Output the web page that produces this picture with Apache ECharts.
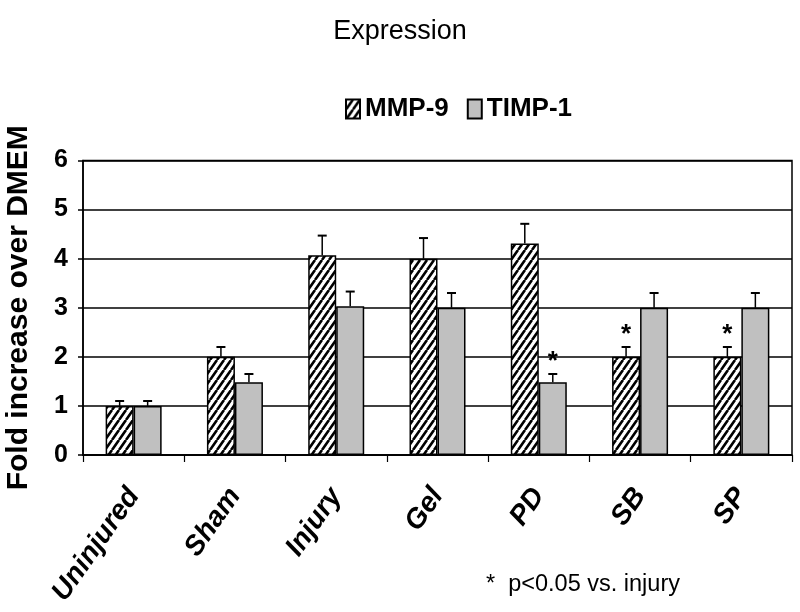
<!DOCTYPE html>
<html>
<head>
<meta charset="utf-8">
<script src="https://cdn.jsdelivr.net/npm/echarts@6/dist/echarts.min.js"></script>
<style>
  html, body { margin: 0; padding: 0; background: #fff; }
  #chart { width: 800px; height: 612px; }
</style>
</head>
<body>
<div id="chart"></div>
<script>
// ---- data ----
const categories = ['Uninjured', 'Sham', 'Injury', 'Gel', 'PD', 'SB', 'SP'];
const mmp9 = [1.0, 2.0, 4.07, 4.0, 4.31, 2.0, 2.0];
const timp1 = [1.0, 1.48, 3.03, 3.0, 1.48, 3.0, 3.0];
const mmp9Err = [0.1, 0.2, 0.4, 0.42, 0.4, 0.2, 0.2];
const timp1Err = [0.1, 0.17, 0.3, 0.3, 0.17, 0.3, 0.3];
const mmp9Sig = [0, 0, 0, 0, 0, 1, 1];
const timp1Sig = [0, 0, 0, 0, 1, 0, 0];
const yTickLabels = ['0', '1', '2', '3', '4', '5', '6'];

// ---- hatch pattern ----
function makeHatch() {
  const w = 7, h = 10;
  const c = document.createElement('canvas');
  c.width = w; c.height = h;
  const ctx = c.getContext('2d');
  ctx.fillStyle = '#fff';
  ctx.fillRect(0, 0, w, h);
  ctx.strokeStyle = '#000';
  ctx.lineWidth = 2.6;
  ctx.beginPath();
  for (let k = -1; k <= 1; k++) {
    ctx.moveTo(k * w, h);
    ctx.lineTo(k * w + w, 0);
  }
  ctx.stroke();
  return c;
}
const hatch = { image: makeHatch(), repeat: 'repeat' };

const BAR_W = 28;
const FONT = 'Liberation Sans, Arial, sans-serif';

function errSeries(name, vals, errs, sigs, side) {
  return {
    type: 'custom',
    name: name + ' err',
    z: 5,
    silent: true,
    data: vals.map((v, i) => [i, v, errs[i], sigs[i]]),
    renderItem: function (params, api) {
      const i = api.value(0), v = api.value(1), e = api.value(2), s = api.value(3);
      const p0 = api.coord([i, v]);
      const p1 = api.coord([i, v + e]);
      const x = p0[0] + side * BAR_W / 2;
      const children = [
        { type: 'line', shape: { x1: x, y1: p0[1], x2: x, y2: p1[1] }, style: { stroke: '#000', lineWidth: 1.5 } },
        { type: 'line', shape: { x1: x - 4.5, y1: p1[1], x2: x + 4.5, y2: p1[1] }, style: { stroke: '#000', lineWidth: 2 } }
      ];
      if (s) {
        children.push({
          type: 'text',
          style: {
            text: '*', x: x, y: p1[1] + 1,
            align: 'center', verticalAlign: 'bottom',
            textAlign: 'center', textVerticalAlign: 'bottom',
            fontSize: 26, fontWeight: 'bold', fontFamily: FONT, fill: '#000'
          }
        });
      }
      return { type: 'group', children: children };
    }
  };
}

const chart = echarts.init(document.getElementById('chart'), null, { renderer: 'canvas' });
chart.setOption({
  backgroundColor: '#fff',
  animation: false,
  title: {
    text: 'Expression',
    left: 'center',
    top: 13,
    textStyle: { fontFamily: FONT, fontWeight: 'normal', fontSize: 27, color: '#000' }
  },
  legend: {
    data: ['MMP-9', 'TIMP-1'],
    left: 340,
    top: 91,
    itemWidth: 14,
    itemHeight: 19,
    itemGap: 18,
    icon: 'rect',
    textStyle: { fontFamily: 'Liberation Sans Narrow, Arial Narrow, sans-serif', fontWeight: 'bold', fontSize: 26, color: '#000' }
  },
  grid: {
    left: 83, right: 8, top: 160.5, bottom: 157,
    show: true, borderColor: '#000', borderWidth: 1.5, backgroundColor: 'transparent',
    containLabel: false,
    outerBoundsMode: 'none'
  },
  xAxis: {
    type: 'category',
    data: categories,
    axisLine: { lineStyle: { color: '#000', width: 1.5 } },
    axisTick: { show: true, length: 7, lineStyle: { color: '#000', width: 1.2 } },
    axisLabel: {
      rotate: 55, margin: 36,
      fontFamily: FONT, fontWeight: 'bold', fontStyle: 'italic', fontSize: 28, color: '#000'
    }
  },
  yAxis: {
    type: 'value',
    min: 0, max: 6, interval: 1,
    name: 'Fold increase over DMEM',
    nameLocation: 'middle',
    nameGap: 49,
    nameTextStyle: { fontFamily: FONT, fontWeight: 'bold', fontSize: 30, color: '#000' },
    axisLine: { show: true, lineStyle: { color: '#000', width: 1.5 } },
    axisTick: { show: true, length: 5, lineStyle: { color: '#000', width: 1.5 } },
    axisLabel: {
      margin: 15,
      fontFamily: FONT, fontWeight: 'bold', fontSize: 25, color: '#000',
      formatter: function (v) { return yTickLabels[Math.round(v)]; }
    },
    splitLine: { show: true, lineStyle: { color: '#000', width: 1.5 } }
  },
  series: [
    {
      name: 'MMP-9', type: 'bar', data: mmp9, barWidth: BAR_W, barGap: '0%',
      itemStyle: { color: hatch, borderColor: '#000', borderWidth: 1.5 }
    },
    {
      name: 'TIMP-1', type: 'bar', data: timp1, barWidth: BAR_W, barGap: '0%',
      itemStyle: { color: '#c0c0c0', borderColor: '#000', borderWidth: 1.5 }
    },
    errSeries('MMP-9', mmp9, mmp9Err, mmp9Sig, -1),
    errSeries('TIMP-1', timp1, timp1Err, timp1Sig, 1)
  ],
  graphic: [
    {
      type: 'text',
      left: 486, top: 573,
      style: { text: '*  p<0.05 vs. injury', fontFamily: FONT, fontSize: 23.5, fill: '#000' }
    }
  ]
});
</script>
</body>
</html>
